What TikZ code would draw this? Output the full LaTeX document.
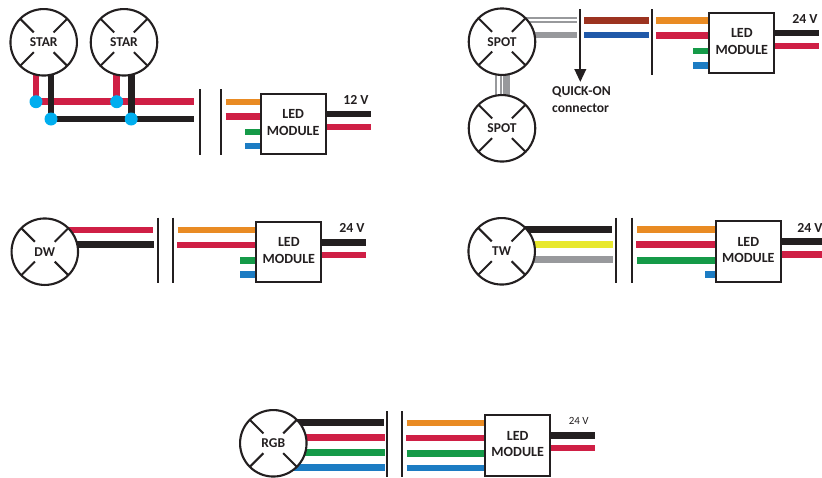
\documentclass[tikz,border=0pt]{standalone}
\usepackage{fontspec}
\setmainfont{Carlito}
\usetikzlibrary{backgrounds,calc,arrows.meta}
\definecolor{cred}{RGB}{207,31,69}
\definecolor{cblack}{RGB}{35,31,32}
\definecolor{corange}{RGB}{233,139,35}
\definecolor{cgreen}{RGB}{21,154,72}
\definecolor{cblue}{RGB}{28,124,195}
\definecolor{cbrown}{RGB}{156,51,32}
\definecolor{cdblue}{RGB}{32,89,169}
\definecolor{cgray}{RGB}{152,153,156}
\definecolor{cyellow}{RGB}{232,232,46}
\definecolor{ccyan}{RGB}{0,174,239}
\newcommand\lamplabel[1]{\raisebox{-1.5pt}{#1}}
\tikzset{
 x=1pt,y=-1pt,
 lamp/.style={circle,draw=cblack,line width=2.1pt,fill=white,minimum size=66.5pt,inner sep=0pt,
   font=\fontsize{13.5}{14}\selectfont\bfseries,text=cblack,
   path picture={\foreach \a in {45,135,225,315}{\draw[cblack,line width=2pt] (path picture bounding box.center)++(\a:14pt) -- ++(\a:22pt);}}},
 module/.style={draw=cblack,line width=2pt,fill=white,minimum width=65pt,minimum height=60.5pt,inner sep=0pt,align=center,text depth=3pt,
   font=\fontsize{14}{16.5}\selectfont\bfseries,text=cblack},
 wire/.style={line width=6.6pt},
 thin wire/.style={line width=2pt},
 bar/.style={draw=cblack,line width=2.2pt},
 joint/.style={circle,fill=ccyan,minimum size=13pt,inner sep=0pt},
 volt/.style={font=\fontsize{13.8}{14}\selectfont\bfseries,text=cblack,inner sep=0pt},
 plainvolt/.style={font=\fontsize{11}{12}\selectfont,text=cblack,inner sep=0pt},
 note/.style={font=\fontsize{13.6}{15}\selectfont\bfseries,text=cblack,inner sep=0pt,anchor=base west},
}
\begin{document}
\begin{tikzpicture}
\useasboundingbox (0,0) rectangle (822,477);
% ---------- STAR
\node[lamp] (s1) at (43.7,42.3) {\lamplabel{STAR}};
\node[lamp] (s2) at (124,42.3) {\lamplabel{STAR}};
\node[module] (m1) at (293.2,123.8) {LED\\MODULE};
\node[volt] (v1) at (356,100) {12 V};
\coordinate (s1r) at (36,101.7); \coordinate (s1b) at (51,119);
\coordinate (s2r) at (116.7,101.7); \coordinate (s2b) at (131.2,119);
\coordinate (rEnd) at (193.5,101.7); \coordinate (bEnd) at (193.5,119);
\node[joint] (j1) at (s1r) {}; \node[joint] (j2) at (s1b) {};
\node[joint] (j3) at (s2r) {}; \node[joint] (j4) at (s2b) {};
\begin{pgfonlayer}{background}
\draw[wire,cred] (s1r) -- (rEnd);
\draw[wire,cblack] (s1b) -- (bEnd);
\draw[wire,cred] (s1r |- s1) -- (s1r);
\draw[wire,cblack] (s1b |- s1) -- (s1b);
\draw[wire,cred] (s2r |- s2) -- (s2r);
\draw[wire,cblack] (s2b |- s2) -- (s2b);
\end{pgfonlayer}
\coordinate (b1a) at (200,89); \coordinate (b1b) at (200,155);
\coordinate (b2a) at (221,89); \coordinate (b2b) at (221,155);
\draw[bar] (b1a) -- (b1b); \draw[bar] (b2a) -- (b2b);
\coordinate (i1) at (226,102); \coordinate (i2) at (225.5,116.5);
\coordinate (i3) at (245,132); \coordinate (i4) at (245,146);
\coordinate (o1) at (370.5,114); \coordinate (o2) at (370.5,127);
\draw[wire,corange] (i1) -- (i1 -| m1.west);
\draw[wire,cred] (i2) -- (i2 -| m1.west);
\draw[wire,cgreen] (i3) -- (i3 -| m1.west);
\draw[wire,cblue] (i4) -- (i4 -| m1.west);
\draw[wire,cblack] (o1 -| m1.east) -- (o1);
\draw[wire,cred] (o2 -| m1.east) -- (o2);
% ---------- SPOT
\node[lamp] (p1) at (502,41.7) {\lamplabel{SPOT}};
\node[lamp] (p2) at (502,128.3) {\lamplabel{SPOT}};
\node[module] (m2) at (741.8,43) {LED\\MODULE};
\node[volt] (v2) at (805,19) {24 V};
\coordinate (g1) at (577,18); \coordinate (g2) at (577,22); \coordinate (g3) at (577,35);
\coordinate (g4) at (496.3,96); \coordinate (g5) at (500.5,96); \coordinate (g6) at (506.7,96);
\begin{pgfonlayer}{background}
\draw[thin wire,cgray] (g1 -| p1) -- (g1);
\draw[thin wire,cgray] (g2 -| p1) -- (g2);
\draw[wire,cgray] (g3 -| p1) -- (g3);
\draw[thin wire,cgray] (g4 |- p1) -- (g4 |- p2);
\draw[thin wire,cgray] (g5 |- p1) -- (g5 |- p2);
\draw[wire,cgray] (g6 |- p1) -- (g6 |- p2);
\end{pgfonlayer}
\coordinate (qa) at (580.3,9); \coordinate (qb) at (580.3,82);
\draw[bar,-{Triangle[length=13pt,width=11.5pt]}] (qa) -- (qb);
\node[note] (q1) at (552,95) {QUICK-ON};
\node[note] (q2) at (552,112) {connector};
\coordinate (c1a) at (584,20.3); \coordinate (c1b) at (649,20.3);
\coordinate (c2a) at (584,35); \coordinate (c2b) at (649,35);
\draw[wire,cbrown] (c1a) -- (c1b);
\draw[wire,cdblue] (c2a) -- (c2b);
\coordinate (b3a) at (652.3,9); \coordinate (b3b) at (652.3,74.5);
\draw[bar] (b3a) -- (b3b);
\coordinate (i5) at (656,20.7); \coordinate (i6) at (656,35.3);
\coordinate (i7) at (693,51); \coordinate (i8) at (693,65.5);
\coordinate (o3) at (819,33); \coordinate (o4) at (819,46);
\draw[wire,corange] (i5) -- (i5 -| m2.west);
\draw[wire,cred] (i6) -- (i6 -| m2.west);
\draw[wire,cgreen] (i7) -- (i7 -| m2.west);
\draw[wire,cblue] (i8) -- (i8 -| m2.west);
\draw[wire,cblack] (o3 -| m2.east) -- (o3);
\draw[wire,cred] (o4 -| m2.east) -- (o4);
% ---------- DW
\node[lamp] (d) at (44.8,251.7) {\lamplabel{DW}};
\node[module] (m3) at (288.8,252.2) {LED\\MODULE};
\node[volt] (v3) at (352,227.7) {24 V};
\coordinate (d1) at (153,230); \coordinate (d2) at (153.5,244.3);
\begin{pgfonlayer}{background}
\draw[wire,cred] (d1 -| d) -- (d1);
\draw[wire,cblack] (d2 -| d) -- (d2);
\end{pgfonlayer}
\coordinate (b4a) at (158.3,217.7); \coordinate (b4b) at (158.3,283.3);
\coordinate (b5a) at (173,217.7); \coordinate (b5b) at (173,283.3);
\draw[bar] (b4a) -- (b4b); \draw[bar] (b5a) -- (b5b);
\coordinate (i9) at (177.7,230); \coordinate (i10) at (177,245);
\coordinate (i11) at (240,260.7); \coordinate (i12) at (240,274.7);
\coordinate (o5) at (366,242.3); \coordinate (o6) at (366,255);
\draw[wire,corange] (i9) -- (i9 -| m3.west);
\draw[wire,cred] (i10) -- (i10 -| m3.west);
\draw[wire,cgreen] (i11) -- (i11 -| m3.west);
\draw[wire,cblue] (i12) -- (i12 -| m3.west);
\draw[wire,cblack] (o5 -| m3.east) -- (o5);
\draw[wire,cred] (o6 -| m3.east) -- (o6);
% ---------- TW
\node[lamp] (t) at (501.7,251.3) {\lamplabel{TW}};
\node[module] (m4) at (748.3,251.7) {LED\\MODULE};
\node[volt] (v4) at (810,228) {24 V};
\coordinate (t1) at (612.3,229.3); \coordinate (t2) at (613,244.3); \coordinate (t3) at (613,259.7);
\begin{pgfonlayer}{background}
\draw[wire,cblack] (t1 -| t) -- (t1);
\draw[wire,cyellow] (t2 -| t) -- (t2);
\draw[wire,cgray] (t3 -| t) -- (t3);
\end{pgfonlayer}
\coordinate (b6a) at (615.7,217.7); \coordinate (b6b) at (615.7,283.3);
\coordinate (b7a) at (632.3,217.7); \coordinate (b7b) at (632.3,283.3);
\draw[bar] (b6a) -- (b6b); \draw[bar] (b7a) -- (b7b);
\coordinate (i13) at (637,229.7); \coordinate (i14) at (636,244.6);
\coordinate (i15) at (637,260.3); \coordinate (i16) at (705,274.3);
\coordinate (o7) at (822,241.7); \coordinate (o8) at (822,254.3);
\draw[wire,corange] (i13) -- (i13 -| m4.west);
\draw[wire,cred] (i14) -- (i14 -| m4.west);
\draw[wire,cgreen] (i15) -- (i15 -| m4.west);
\draw[wire,cblue] (i16) -- (i16 -| m4.west);
\draw[wire,cblack] (o7 -| m4.east) -- (o7);
\draw[wire,cred] (o8 -| m4.east) -- (o8);
% ---------- RGB
\node[lamp] (r) at (273.3,443.3) {\lamplabel{RGB}};
\node[module] (m5) at (517.7,445.3) {LED\\MODULE};
\node[plainvolt] (v5) at (578.7,421) {24 V};
\coordinate (r1) at (384.3,422.7); \coordinate (r2) at (385,437.3);
\coordinate (r3) at (385,452.7); \coordinate (r4) at (385,467.3);
\begin{pgfonlayer}{background}
\draw[wire,cblack] (r1 -| r) -- (r1);
\draw[wire,cred] (r2 -| r) -- (r2);
\draw[wire,cgreen] (r3 -| r) -- (r3);
\draw[wire,cblue] (r4 -| r) -- (r4);
\end{pgfonlayer}
\coordinate (b8a) at (387.3,411); \coordinate (b8b) at (387.3,477);
\coordinate (b9a) at (402,411); \coordinate (b9b) at (402,477);
\draw[bar] (b8a) -- (b8b); \draw[bar] (b9a) -- (b9b);
\coordinate (i17) at (406.7,423); \coordinate (i18) at (406,438);
\coordinate (i19) at (406.7,453.3); \coordinate (i20) at (406.7,468);
\coordinate (o9) at (595,435.3); \coordinate (o10) at (595,448);
\draw[wire,corange] (i17) -- (i17 -| m5.west);
\draw[wire,cred] (i18) -- (i18 -| m5.west);
\draw[wire,cgreen] (i19) -- (i19 -| m5.west);
\draw[wire,cblue] (i20) -- (i20 -| m5.west);
\draw[wire,cblack] (o9 -| m5.east) -- (o9);
\draw[wire,cred] (o10 -| m5.east) -- (o10);
\end{tikzpicture}
\end{document}
